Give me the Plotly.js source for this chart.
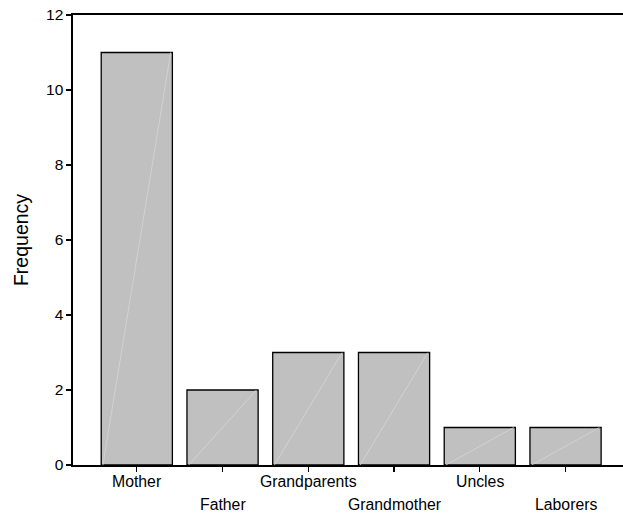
<!DOCTYPE html>
<html>
<head>
<meta charset="utf-8">
<script src="https://cdn.plot.ly/plotly-3.0.1.min.js"></script>
<style>html,body{margin:0;padding:0;background:#fff;}#chart{width:623px;height:513px;}</style>
</head>
<body>
<div id="chart"></div>
<script>
var categories = ["Mother", "Father", "Grandparents", "Grandmother", "Uncles", "Laborers"];
var frequencies = [11, 2, 3, 3, 1, 1];
var yTicks = [0, 2, 4, 6, 8, 10, 12];

var idx = categories.map(function (c, i) { return i; });
var barWidth = 0.83;

var traces = [{
  type: 'bar',
  x: idx,
  y: frequencies,
  width: barWidth,
  marker: { color: '#c0c0c0', line: { color: '#000000', width: 1.3 } },
  hoverinfo: 'skip'
}];

// faint diagonal artefacts inside each bar (bottom-left to top-right)
var dx = [], dy = [];
frequencies.forEach(function (v, i) {
  dx.push(i - barWidth / 2 + 0.02, i + barWidth / 2 - 0.02, null);
  dy.push(0, v, null);
});
traces.push({
  type: 'scatter', mode: 'lines', x: dx, y: dy,
  line: { color: '#d6d6d6', width: 0.8 }, hoverinfo: 'skip', showlegend: false
});

var annotations = categories.map(function (c, i) {
  return {
    text: c, x: i, xref: 'x', y: 0, yref: 'paper',
    yanchor: 'top', xanchor: 'center', showarrow: false,
    borderpad: 0,
    yshift: (i % 2 === 0) ? -7 : -30,
    font: { family: 'Liberation Sans, Arial, sans-serif', size: 15.8, color: '#000' }
  };
});

var layout = {
  width: 623, height: 513,
  margin: { l: 73, r: 0, t: 15, b: 48, pad: 0 },
  paper_bgcolor: '#ffffff', plot_bgcolor: '#ffffff',
  showlegend: false,
  bargap: 0.17,
  font: { family: 'Liberation Sans, Arial, sans-serif', size: 15, color: '#000' },
  xaxis: {
    range: [-0.744, 5.67],
    tickvals: idx, ticktext: categories, showticklabels: false,
    ticks: 'outside', ticklen: 5, tickwidth: 1.3, tickcolor: '#000',
    showline: true, linecolor: '#000', linewidth: 1.6, mirror: true,
    showgrid: false, zeroline: false, fixedrange: true
  },
  yaxis: {
    range: [0, 12],
    tickvals: yTicks,
    ticks: 'outside', ticklen: 5, tickwidth: 1.3, tickcolor: '#000',
    showline: true, linecolor: '#000', linewidth: 1.6,
    showgrid: false, zeroline: false,
    tickfont: { size: 15.5 },
    title: { text: 'Frequency', font: { size: 19.5 }, standoff: 12 },
    fixedrange: true
  },
  annotations: annotations
};

Plotly.newPlot('chart', traces, layout, { displayModeBar: false, staticPlot: true });
</script>
</body>
</html>
